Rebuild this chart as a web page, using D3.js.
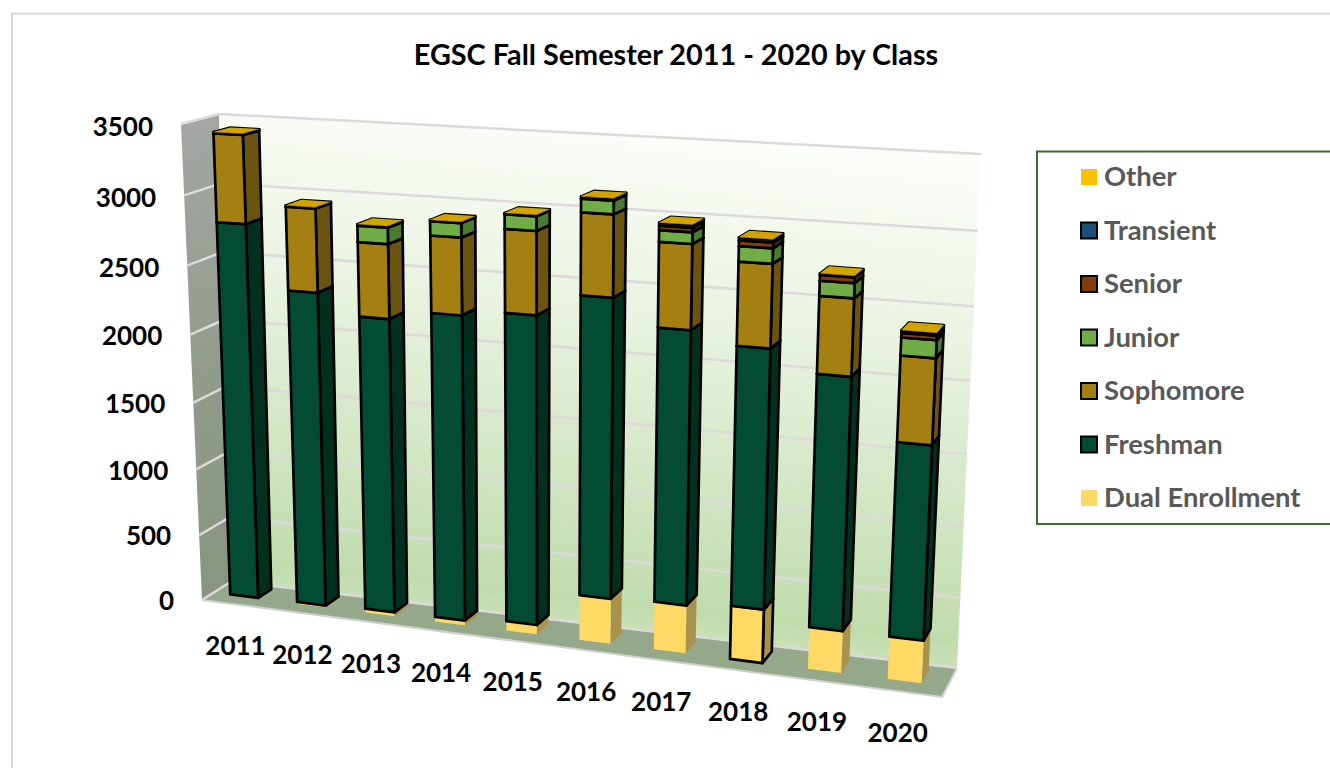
<!DOCTYPE html>
<html><head><meta charset="utf-8">
<script src="https://cdnjs.cloudflare.com/ajax/libs/d3/7.8.5/d3.min.js"></script>
<style>html,body{margin:0;padding:0;background:#fff;overflow:hidden}svg{display:block}text{font-family:Lato,"Open Sans",sans-serif;font-weight:700}</style>
</head><body><svg id="c" width="1330" height="768"></svg>
<script>
const years=["2011","2012","2013","2014","2015","2016","2017","2018","2019","2020"];
const yTicks=[0,500,1000,1500,2000,2500,3000,3500];
const seriesNames=["Dual Enrollment","Freshman","Sophomore","Junior","Senior","Transient","Other"];
const dualEnrollment=[8,15,30,35,70,330,347,384,298,300];
const freshman=[2778,2318,2156,2218,2225,2126,1930,1812,1754,1342];
const sophomore=[630,597,528,542,580,565,580,565,520,578];
const junior=[0,0,115,100,100,92,78,103,100,119];
const senior=[0,0,0,0,0,0,30,38,38,31];
const transient=[8,8,10,8,8,15,20,20,10,16];
const other=[2,2,2,2,2,2,2,2,2,2];
const seriesValues=[dualEnrollment,freshman,sophomore,junior,senior,transient,other];
const frontColors=["#FFD966","#034B32","#A47F12","#70AD47","#843C0C","#1F4E79","#FFC000"];
const sideColors=["#A9924B","#02301F","#6B5310","#4A7A2E","#5A2A08","#14334F","#A98000"];
const topColor="#D2A400";
const outlined=[false,true,true,true,true,true,false];
const outlinedDualYears=["2018"];

const svg=d3.select("#c");
function homography(q){
  const [[x0,y0],[x1,y1],[x2,y2],[x3,y3]]=q;
  const dx1=x1-x2,dx2=x3-x2,sx=x0-x1+x2-x3,dy1=y1-y2,dy2=y3-y2,sy=y0-y1+y2-y3;
  const den=dx1*dy2-dx2*dy1,g=(sx*dy2-dx2*sy)/den,h=(dx1*sy-sx*dy1)/den;
  const a=x1-x0+g*x1,b=x3-x0+h*x3,d=y1-y0+g*y1,e=y3-y0+h*y3;
  return (u,v)=>{const w=g*u+h*v+1;return [(a*u+b*v+x0)/w,(d*u+e*v+y0)/w];};
}
const backWall=homography([[232,581],[957,668],[981,154],[219,114]]);
const frontPlane=homography([[202,600],[942,697],[967,165],[181,124]]);
const project=(u,v,z)=>{const b=backWall(u,v),f=frontPlane(u,v);return [b[0]+(f[0]-b[0])*z,b[1]+(f[1]-b[1])*z];};
const x=d3.scaleBand().domain(years).range([-0.0025,0.9975]).paddingInner(0.58).paddingOuter(0.29);
const y=d3.scaleLinear().domain([0,3500]).range([0,1]);
const zFront=0.64,zBack=0.2;
const line=d3.line();
const poly=pts=>line(pts)+"Z";

const defs=svg.append("defs");
function grad(id,x1,y1,x2,y2,stops){
  const g=defs.append("linearGradient").attr("id",id).attr("gradientUnits","userSpaceOnUse")
    .attr("x1",x1).attr("y1",y1).attr("x2",x2).attr("y2",y2);
  stops.forEach(s=>g.append("stop").attr("offset",s[0]).attr("stop-color",s[1]));
}
grad("gBack",600,125,540,660,[[0,"#fbfdf9"],[0.35,"#e9f3e0"],[0.88,"#c0dcad"],[1,"#d6e9c8"]]);
grad("gLeft",190,120,215,600,[[0,"#a3a6a3"],[0.6,"#8f9a88"],[1,"#8a9580"]]);

svg.append("path").attr("d","M12,768V13.5H1330").attr("fill","none").attr("stroke","#d9d9d9").attr("stroke-width",2);

svg.append("path").attr("d",poly([project(0,0,1),project(0,1,1),project(0,1,0),project(0,0,0)])).attr("fill","url(#gLeft)");
svg.append("path").attr("d",poly([project(0,0,0),project(1,0,0),project(1,1,0),project(0,1,0)])).attr("fill","url(#gBack)");
svg.append("path").attr("d",poly([project(0,0,1),project(1,0,1),project(1,0,0),project(0,0,0)])).attr("fill","#95A98A");

const g=svg.append("g").attr("fill","none").attr("stroke","#dcd8dc").attr("stroke-width",2.5);
g.selectAll("path.b").data(yTicks).join("path").attr("class","b")
  .attr("d",t=>line([project(0,y(t),0),project(1,y(t),0)]));
g.selectAll("path.l").data(yTicks).join("path").attr("class","l").attr("stroke","#dbdbdb")
  .attr("d",t=>line([project(0,y(t),1),project(0,y(t),0)]));
svg.append("path").attr("d",line([project(0,0,1),project(1,0,1),project(1,0,0)])).attr("fill","none").attr("stroke","#d0d0d0").attr("stroke-width",2);

const table=years.map((yr,i)=>{const r={year:yr};seriesNames.forEach((s,k)=>r[s]=seriesValues[k][i]);return r;});
const stacked=d3.stack().keys(seriesNames)(table);
const barsG=svg.append("g").attr("stroke-linejoin","round");
years.forEach((yr,i)=>{
  const u0=x(yr),u1=u0+x.bandwidth();
  const bar=barsG.append("g");
  stacked.forEach((layer,k)=>{
    const [a,b]=layer[i];const v0=y(a),v1=y(b);
    if(b-a<=0) return;
    const hasLine=outlined[k]||(k===0&&outlinedDualYears.includes(yr));
    const st=hasLine?"#000":"none";
    const seg=bar.append("g").attr("stroke",st).attr("stroke-width",hasLine?2.7:0);
    seg.append("path").attr("d",poly([project(u1,v0,zFront),project(u1,v0,zBack),project(u1,v1,zBack),project(u1,v1,zFront)])).attr("fill",sideColors[k]);
    seg.append("path").attr("d",poly([project(u0,v1,zFront),project(u1,v1,zFront),project(u1,v1,zBack),project(u0,v1,zBack)])).attr("fill",topColor);
    seg.append("path").attr("d",poly([project(u0,v0,zFront),project(u1,v0,zFront),project(u1,v1,zFront),project(u0,v1,zFront)])).attr("fill",frontColors[k]);
  });
});

svg.append("g").selectAll("text").data(yTicks).join("text")
  .attr("x",t=>project(0,y(t),1)[0]-28).attr("y",t=>project(0,y(t),1)[1]+3+t/3500*2)
  .attr("text-anchor","end").attr("dominant-baseline","middle").attr("font-size",26).attr("fill","#000").text(t=>t);
svg.append("g").selectAll("text").data(years).join("text")
  .attr("x",(d,i)=>{const c=project(x(d)+x.bandwidth()/2,0,1)[0];return c+2-3*i/9;})
  .attr("y",d=>project(x(d)+x.bandwidth()/2,0,1)[1]+44)
  .attr("text-anchor","middle").attr("dominant-baseline","middle").attr("font-size",26).attr("fill","#000").text(d=>d);

svg.append("text").attr("x",676).attr("y",57.5).attr("text-anchor","middle").attr("dominant-baseline","middle")
  .attr("font-size",28.8).attr("fill","#000").text("EGSC Fall Semester 2011 - 2020 by Class");

svg.append("path").attr("d","M1330,151.5H1037V524H1330").attr("fill","none").attr("stroke","#3F6B2B").attr("stroke-width",2);
const legY=d3.scalePoint().domain(seriesNames.slice().reverse()).range([177,498]);
const leg=svg.append("g").selectAll("g").data(seriesNames).join("g").attr("transform",d=>`translate(0,${legY(d)})`);
leg.append("rect").attr("x",1081).attr("y",-8).attr("width",16).attr("height",16)
  .attr("fill",(d,i)=>frontColors[i]).attr("stroke",(d,i)=>outlined[i]?"#000":"none").attr("stroke-width",2);
leg.append("text").attr("x",1104).attr("y",2).attr("dominant-baseline","middle").attr("font-size",27.4).attr("fill","#595959").text(d=>d);
</script></body></html>
